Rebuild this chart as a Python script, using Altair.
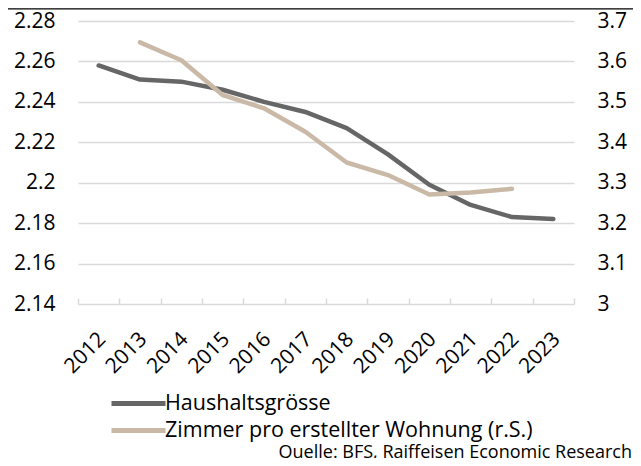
import altair as alt
import pandas as pd

years = ["2012", "2013", "2014", "2015", "2016", "2017", "2018", "2019", "2020", "2021", "2022", "2023"]
haushalt = [2.258, 2.251, 2.250, 2.246, 2.240, 2.235, 2.227, 2.214, 2.199, 2.189, 2.183, 2.182]
zimmer = [None, 3.647, 3.603, 3.517, 3.484, 3.426, 3.350, 3.319, 3.271, 3.276, 3.285, None]
series = ["Haushaltsgrösse", "Zimmer pro erstellter Wohnung (r.S.)"]
colors = ["#666666", "#c9b9a6"]
left_ticks = [2.14, 2.16, 2.18, 2.20, 2.22, 2.24, 2.26, 2.28]
right_ticks = [3.0, 3.1, 3.2, 3.3, 3.4, 3.5, 3.6, 3.7]
source = "Quelle: BFS, Raiffeisen Economic Research"

FONT = "Open Sans"
GRID = "#d9d9d9"
W, H = 496, 283
LBL = dict(labelFont=FONT, labelColor="#000000", labelFontSize=21)

df_h = pd.DataFrame({"year": years, "value": haushalt, "series": series[0]})
df_z = pd.DataFrame({"year": years, "value": zimmer, "series": series[1]}).dropna()

x_scale = alt.Scale(type="band", paddingInner=0, paddingOuter=0, domain=years)
color = alt.Color(
    "series:N",
    scale=alt.Scale(domain=series, range=colors),
    legend=alt.Legend(
        title=None, orient="none", legendX=31, legendY=370,
        symbolType="M-1,0H4.4", symbolSize=400, symbolStrokeWidth=5,
        labelFontSize=21.5, labelFont=FONT, labelColor="#000000",
        labelOffset=31, rowPadding=4, padding=0, labelLimit=600,
        direction="vertical",
    ),
)

line_h = alt.Chart(df_h).mark_line(strokeWidth=4.5, strokeCap="round", strokeJoin="round").encode(
    x=alt.X(
        "year:O", scale=x_scale, bandPosition=0.5,
        axis=alt.Axis(
            title=None, labelAngle=-45, labelAlign="right", labelBaseline="top",
            labelPadding=24, labelOffset=-4, grid=False, domain=False, ticks=False,
            tickSize=0, **LBL,
        ),
    ),
    y=alt.Y(
        "value:Q", scale=alt.Scale(domain=[2.14, 2.28], nice=False, zero=False),
        axis=alt.Axis(
            title=None, values=left_ticks, format="~g", grid=True, gridColor=GRID,
            gridWidth=1.5, labelPadding=23, domain=False, ticks=False, tickSize=0, **LBL,
        ),
    ),
    color=color,
)

line_z = alt.Chart(df_z).mark_line(strokeWidth=4.5, strokeCap="round", strokeJoin="round").encode(
    x=alt.X(
        "year:O", scale=x_scale, bandPosition=0.5,
        axis=alt.Axis(
            title=None, orient="top", offset=-H, labels=False, domain=False,
            ticks=True, tickBand="extent", tickSize=6, tickColor=GRID, tickWidth=1.5,
            grid=False,
        ),
    ),
    y=alt.Y(
        "value:Q", scale=alt.Scale(domain=[3.0, 3.7], nice=False, zero=False),
        axis=alt.Axis(
            title=None, orient="right", values=right_ticks, format="~g", grid=False,
            labelPadding=23, labelAlign="left", domain=False, ticks=False, tickSize=0, **LBL,
        ),
    ),
    color=color,
)

top_line = alt.Chart(pd.DataFrame({"a": [0]})).mark_rect(color="#000000").encode(
    x=alt.value(-70), x2=alt.value(W + 59), y=alt.value(-12.8), y2=alt.value(-11.6)
)

src = alt.Chart(pd.DataFrame({"t": [source]})).mark_text(
    align="right", baseline="alphabetic", fontSize=18, font=FONT, color="#000000"
).encode(text="t:N", x=alt.value(554), y=alt.value(436.5))

chart = (
    alt.layer(line_h, line_z, top_line, src)
    .resolve_scale(y="independent")
    .resolve_axis(x="independent", y="independent")
    .properties(
        width=W, height=H, autosize="none", background="#ffffff",
        padding={"left": 70, "top": 13, "right": 59, "bottom": 154},
    )
    .configure_view(stroke="transparent", strokeWidth=0)
)

chart.save("out.html", embed_options={"renderer": "svg", "actions": False})
